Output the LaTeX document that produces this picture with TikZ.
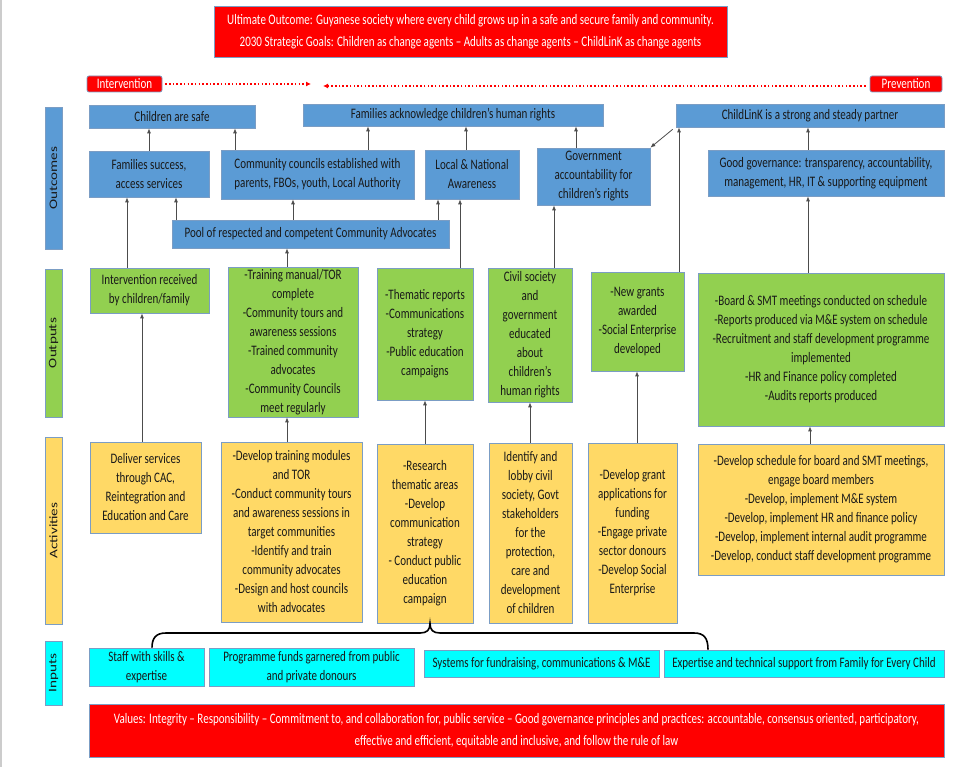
\documentclass[tikz,border=0pt]{standalone}
\usepackage{fontspec}
\setmainfont{Carlito}[FakeStretch=0.76]
\newfontfamily\sidefont{Carlito}[FakeStretch=1.32]
\usetikzlibrary{arrows.meta}
\definecolor{outcome-blue}{HTML}{5B9BD5}
\definecolor{output-green}{HTML}{92D050}
\definecolor{activity-yellow}{HTML}{FFD966}
\definecolor{input-cyan}{HTML}{00FFFF}
\definecolor{goal-red}{HTML}{FF0000}
\definecolor{box-line}{HTML}{7B9DC4}
\colorlet{link-line}{black!70}

\tikzset{
  wh/.style 2 args={minimum width=#1pt,minimum height=#2pt},
  box/.style={draw=box-line,line width=0.7pt,align=center,inner sep=1pt,text=black!90,font=\fontsize{14.5}{19}\selectfont},
  outcomebox/.style={box,fill=outcome-blue},
  outputbox/.style={box,fill=output-green},
  activitybox/.style={box,fill=activity-yellow},
  inputbox/.style={box,fill=input-cyan},
  goalbox/.style={box,fill=goal-red,text=white,font=\fontsize{14.5}{22}\selectfont},
  pillbox/.style={box,fill=goal-red,text=white,rounded corners=2pt,font=\fontsize{14.5}{15}\selectfont},
  rowlabel/.style={box,rotate=90,font=\sidefont\fontsize{11.5}{12}\selectfont},
  conn/.style={link-line,line width=0.8pt,-{Latex[length=5pt,width=4pt]}},
  dotarrow/.style={goal-red,line width=1.2pt,dash pattern=on 1.5pt off 2.2pt,-{Latex[length=5pt,width=5pt]}},
  brace/.style={black,line width=1.6pt},
}

\begin{document}
\begin{tikzpicture}[x=1pt,y=-1pt]
	\useasboundingbox (0,0) rectangle (960,767);
	\draw[black!20,line width=1.5pt] (1,0) -- (1,767);

	\node[goalbox,wh={513}{51}] (ultimate) at (470.5,31.5) {Ultimate Outcome: Guyanese society where every child grows up in a safe and secure family and community.\\2030 Strategic Goals: Children as change agents – Adults as change agents – ChildLinK as change agents};
	\node[pillbox,wh={75}{16}] (intervention) at (124.5,84) {Intervention};
	\node[pillbox,wh={72}{16}] (prevention) at (906,84) {Prevention};
	\coordinate (interventionend) at (311,84);
	\coordinate (preventionend) at (323,86);
	\draw[dotarrow] ([xshift=3pt]intervention.east) -- (interventionend);
	\draw[dotarrow] ([shift={(-4,2)}]prevention.west) -- (preventionend);

	\node[rowlabel,fill=outcome-blue,wh={142}{17}] (outcomeslabel) at (53.5,178) {Outcomes};
	\node[rowlabel,fill=output-green,wh={148}{17}] (outputslabel) at (53.5,343) {Outputs};
	\node[rowlabel,fill=activity-yellow,wh={187}{17}] (activitieslabel) at (53.5,530.5) {Activities};
	\node[rowlabel,fill=input-cyan,wh={64}{17}] (inputslabel) at (53.5,673) {Inputs};

	% outcomes
	\node[outcomebox,wh={166}{23}] (safe) at (172,116.5) {Children are safe};
	\node[outcomebox,wh={300}{22}] (famrights) at (453,115) {Families acknowledge children’s human rights};
	\node[outcomebox,wh={268}{23}] (childlink) at (810,115.5) {ChildLinK is a strong and steady partner};
	\node[outcomebox,wh={120}{46}] (famsuccess) at (149,174) {Families success,\\access services};
	\node[outcomebox,wh={193}{49}] (councils) at (317.5,174.5) {Community councils established with\\parents, FBOs, youth, Local Authority};
	\node[outcomebox,wh={94}{49}] (awareness) at (472,174.5) {Local \& National\\Awareness};
	\node[outcomebox,wh={113}{57}] (govacc) at (593.5,176.5) {Government\\accountability for\\children’s rights};
	\node[outcomebox,wh={236}{46}] (goodgov) at (826,173) {Good governance: transparency, accountability,\\management, HR, IT \& supporting equipment};
	\node[outcomebox,wh={277}{28}] (pool) at (310.5,234) {Pool of respected and competent Community Advocates};

	% outputs
	\node[outputbox,wh={119}{45}] (intrec) at (149.5,290.5) {Intervention received\\by children/family};
	\node[outputbox,wh={130}{150}] (training) at (293,342) {-Training manual/TOR\\complete\\-Community tours and\\awareness sessions\\-Trained community\\advocates\\-Community Councils\\meet regularly};
	\node[outputbox,wh={96}{132}] (thematic) at (425,334) {-Thematic reports\\-Communications\\strategy\\-Public education\\campaigns};
	\node[outputbox,wh={84}{134}] (civil) at (530,335) {Civil society\\and\\government\\educated\\about\\children’s\\human rights};
	\node[outputbox,wh={93}{99}] (grants) at (637.5,321.5) {-New grants\\awarded\\-Social Enterprise\\developed};
	\node[outputbox,wh={246}{153}] (board) at (821,349.5) {-Board \& SMT meetings conducted on schedule\\-Reports produced via M\&E system on schedule\\-Recruitment and staff development programme\\implemented\\-HR and Finance policy completed\\-Audits reports produced};

	% activities
	\node[activitybox,wh={111}{91}] (deliver) at (145.5,487.5) {Deliver services\\through CAC,\\Reintegration and\\Education and Care};
	\node[activitybox,wh={141}{180}] (devtrain) at (291.5,532) {-Develop training modules\\and TOR\\-Conduct community tours\\and awareness sessions in\\target communities\\-Identify and train\\community advocates\\-Design and host councils\\with advocates};
	\node[activitybox,wh={96}{179}] (research) at (425,533.5) {-Research\\thematic areas\\-Develop\\communication\\strategy\\- Conduct public\\education\\campaign};
	\node[activitybox,wh={83}{180}] (lobby) at (530.5,533) {Identify and\\lobby civil\\society, Govt\\stakeholders\\for the\\protection,\\care and\\development\\of children};
	\node[activitybox,wh={89}{180}] (devgrant) at (632.5,533) {-Develop grant\\applications for\\funding\\-Engage private\\sector donours\\-Develop Social\\Enterprise};
	\node[activitybox,wh={246}{131}] (schedule) at (821,509.5) {-Develop schedule for board and SMT meetings,\\engage board members\\-Develop, implement M\&E system\\-Develop, implement HR and finance policy\\-Develop, implement internal audit programme\\-Develop, conduct staff development programme};

	% inputs
	\node[inputbox,wh={115}{38}] (staff) at (146.5,667) {Staff with skills \&\\expertise};
	\node[inputbox,wh={205}{38}] (funds) at (311.5,667) {Programme funds garnered from public\\and private donours};
	\node[inputbox,wh={235}{27}] (systems) at (541.5,663.5) {Systems for fundraising, communications \& M\&E};
	\node[inputbox,wh={280}{27}] (expertise) at (804,663.5) {Expertise and technical support from Family for Every Child};

	\node[goalbox,wh={855}{53}] (values) at (516.5,730.5) {Values: Integrity – Responsibility – Commitment to, and collaboration for, public service – Good governance principles and practices: accountable, consensus oriented, participatory,\\effective and efficient, equitable and inclusive, and follow the rule of law};

	\draw[conn] (famsuccess.north -| 149,0) -- (safe.south -| 149,0);
	\draw[conn] (councils.north -| 235,0) -- (safe.south -| 235,0);
	\draw[conn] (councils.north -| 368,0) -- (famrights.south -| 368,0);
	\draw[conn] (awareness.north -| 466,0) -- (famrights.south -| 466,0);
	\draw[conn] (govacc.north -| 576,0) -- (famrights.south -| 576,0);
	\draw[conn] ([shift={(-3,2)}]childlink.south west) -- (govacc.north east);
	\draw[conn] (grants.north -| 679,0) -- (childlink.south -| 679,0);
	\draw[conn] (goodgov.north -| 808,0) -- (childlink.south -| 808,0);
	\draw[conn] (intrec.north -| 127,0) -- (famsuccess.south -| 127,0);
	\draw[conn] (pool.north -| 176,0) -- (famsuccess.south -| 176,0);
	\draw[conn] (pool.north -| 293,0) -- (councils.south -| 293,0);
	\draw[conn] (pool.north -| 438,0) -- (awareness.south -| 438,0);
	\draw[conn] (training.north -| 287,0) -- (pool.south -| 287,0);
	\draw[conn] (thematic.north -| 460,0) -- (awareness.south -| 460,0);
	\draw[conn] (civil.north -| 554,0) -- (govacc.south -| 554,0);
	\draw[conn] (board.north -| 808,0) -- (goodgov.south -| 808,0);
	\draw[conn] (deliver.north -| 142,0) -- (intrec.south -| 142,0);
	\draw[conn] (devtrain.north -| 287,0) -- (training.south -| 287,0);
	\draw[conn] (research.north -| 425,0) -- (thematic.south -| 425,0);
	\draw[conn] (lobby.north -| 530,0) -- (civil.south -| 530,0);
	\draw[conn] (devgrant.north -| 637,0) -- (grants.south -| 637,0);
	\draw[conn] (schedule.north -| 810,0) -- (board.south -| 810,0);

	\draw[brace] (staff.north -| 152,0) .. controls (152,638) and (156,633) .. (166,633) -- (420,633)
		.. controls (427,633) and (430,630) .. (research.south -| 430,0)
		.. controls (430,630) and (433,633) .. (440,633) -- (694,633)
		.. controls (704,633) and (708,638) .. (expertise.north -| 708,0);
\end{tikzpicture}
\end{document}
